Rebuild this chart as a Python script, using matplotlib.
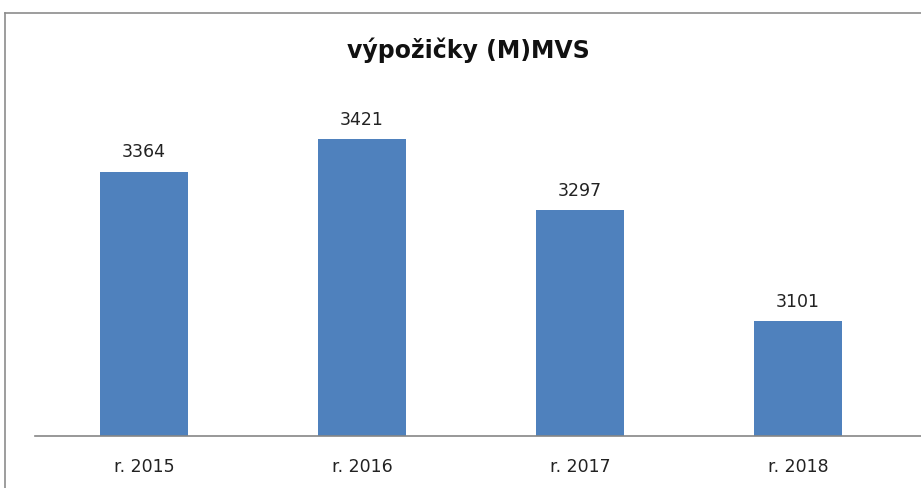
import matplotlib
matplotlib.use("Agg")
import matplotlib.pyplot as plt
from matplotlib.lines import Line2D

years = ["r. 2015", "r. 2016", "r. 2017", "r. 2018"]
loans = [3364, 3421, 3297, 3101]

W, H = 921, 489
fig = plt.figure(figsize=(W / 100, H / 100), dpi=100)
plt.rcParams['font.family'] = ['DejaVu Sans']

# chart frame (only top and left edges visible in the crop)
fig.add_artist(Line2D([5 / W, 1], [1 - 14 / H, 1 - 14 / H], color="#8c8c8c", lw=1.2))
fig.add_artist(Line2D([5 / W, 5 / W], [0, 1 - 14 / H], color="#8c8c8c", lw=1.2))

ax = fig.add_axes([35 / W, 52 / H, (921 - 35) / W, 342 / H])
x = range(len(years))
bars = ax.bar(x, loans, width=0.4, color="#4F81BD", zorder=2)
ax.set_ylim(2900, 3500)
ax.set_xlim(-0.5, 3.5 + 14 / 218)

for b, v in zip(bars, loans):
    ax.annotate(str(v), (b.get_x() + b.get_width() / 2, v), xytext=(0, 8),
                textcoords="offset points", ha="center", va="bottom",
                fontsize=12.5, color="#222222")

ax.set_xticks(list(x))
ax.set_xticklabels(years, fontsize=12.5, color="#222222")
ax.tick_params(axis="x", length=0, pad=15)
ax.set_yticks([])
for s in ["top", "right", "left"]:
    ax.spines[s].set_visible(False)
ax.spines["bottom"].set_color("#868686")
ax.spines["bottom"].set_linewidth(1.2)

fig.text(468 / W, 1 - 50 / H, "výpožičky (M)MVS", ha="center", va="center",
         fontsize=17, fontweight="bold", color="#111111")

fig.savefig("out.png", dpi=100)
